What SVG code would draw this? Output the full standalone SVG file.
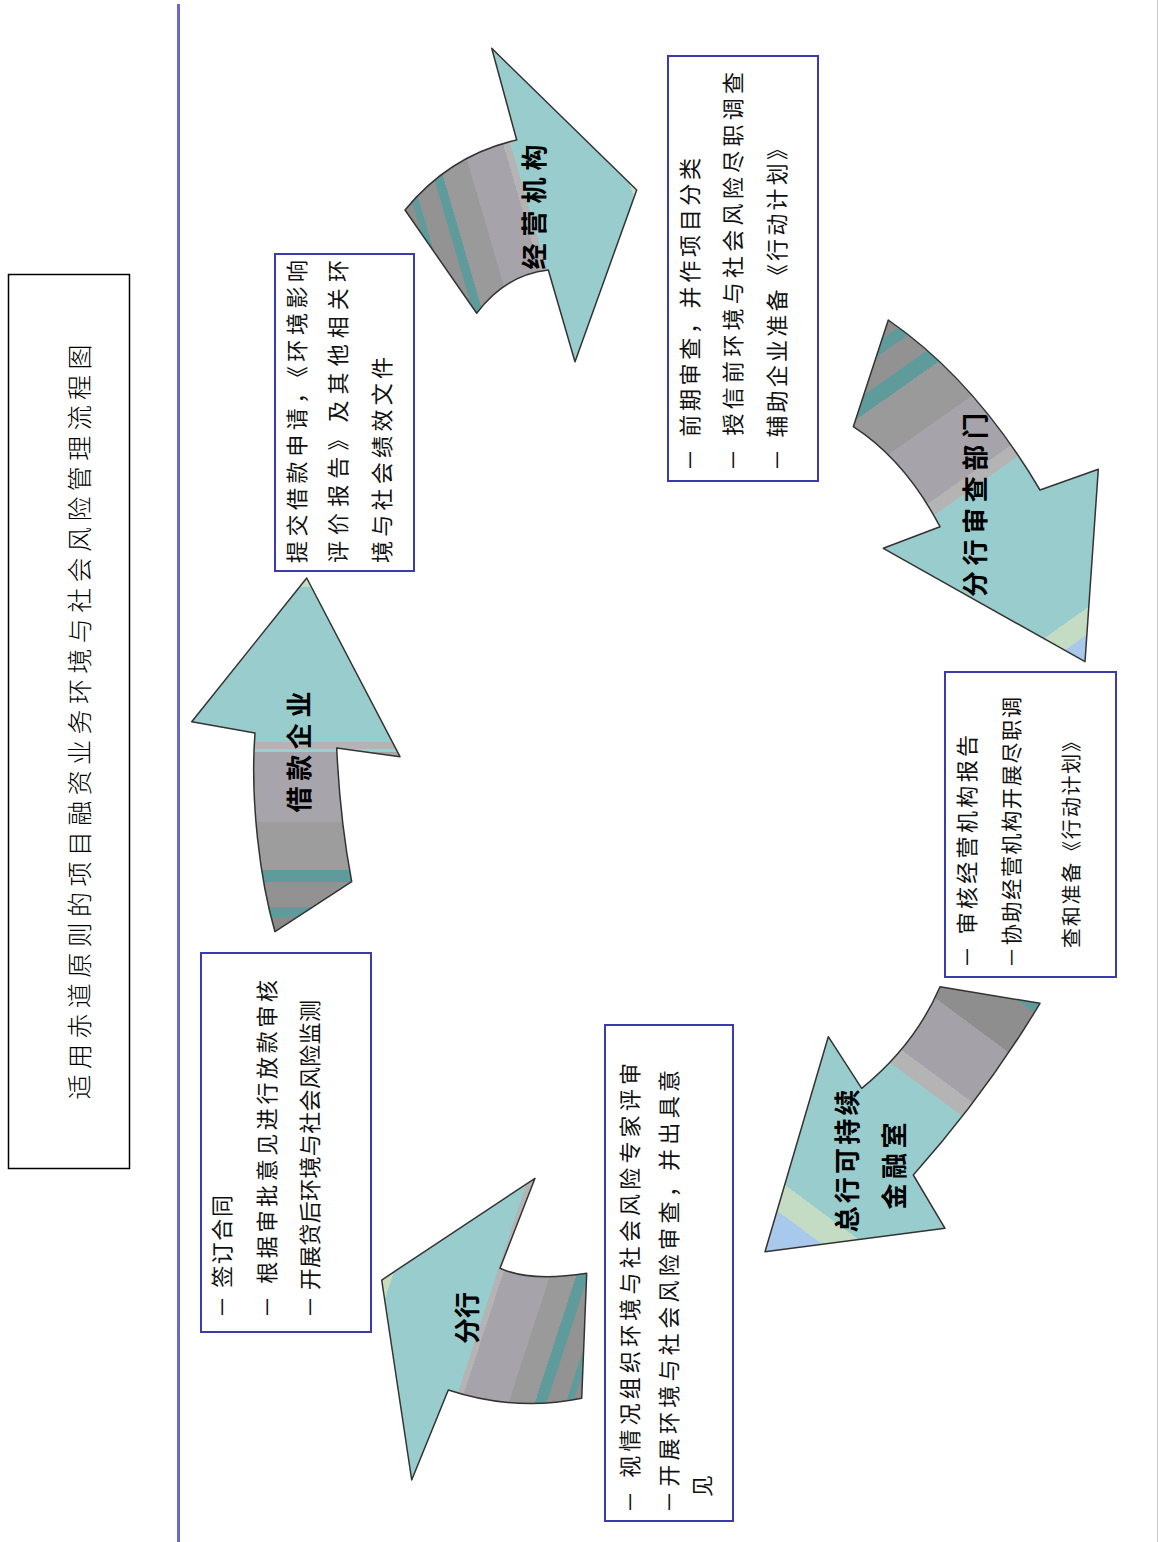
<svg xmlns="http://www.w3.org/2000/svg" width="1159" height="1542" viewBox="0 0 1159 1542">
<style>
.box{fill:#ffffff;stroke:#3b3bb0;stroke-width:2}
.arr{stroke:#333333;stroke-width:1.5;stroke-linejoin:round}
.bt{font-family:"Noto Sans CJK SC","Liberation Sans",sans-serif;font-size:22px;fill:#111;dominant-baseline:central}
.al{font-family:"Noto Sans CJK SC","Liberation Sans",sans-serif;font-size:26px;font-weight:700;fill:#000;dominant-baseline:central;text-anchor:middle}
.tt{font-family:"Noto Sans CJK SC","Liberation Serif",serif;font-size:25px;font-weight:300;fill:#000;dominant-baseline:central;text-anchor:middle}
</style>
<defs>
<linearGradient id="g1" gradientUnits="userSpaceOnUse" x1="0" y1="935" x2="0" y2="578">
<stop offset="0" stop-color="#8a8a8a"/><stop offset="0.05" stop-color="#8a8a8a"/>
<stop offset="0.05" stop-color="#5f9b9b"/><stop offset="0.078" stop-color="#5f9b9b"/>
<stop offset="0.078" stop-color="#929292"/><stop offset="0.148" stop-color="#929292"/>
<stop offset="0.148" stop-color="#5f9b9b"/><stop offset="0.182" stop-color="#5f9b9b"/>
<stop offset="0.182" stop-color="#9d9d9d"/><stop offset="0.317" stop-color="#9d9d9d"/>
<stop offset="0.317" stop-color="#a7a4ac"/><stop offset="0.513" stop-color="#a7a4ac"/>
<stop offset="0.513" stop-color="#9ccfcf"/><stop offset="0.52" stop-color="#9ccfcf"/>
<stop offset="0.52" stop-color="#b4b4b4"/><stop offset="0.541" stop-color="#b4b4b4"/>
<stop offset="0.541" stop-color="#99cccc"/><stop offset="0.975" stop-color="#99cccc"/>
<stop offset="0.975" stop-color="#c4dcc4"/><stop offset="1" stop-color="#c4dcc4"/>
</linearGradient>
<linearGradient id="g2" gradientUnits="userSpaceOnUse" x1="405" y1="210" x2="625.8" y2="145.6">
<stop offset="0" stop-color="#8e8e8e"/><stop offset="0.04" stop-color="#8e8e8e"/>
<stop offset="0.04" stop-color="#5f9b9b"/><stop offset="0.07" stop-color="#5f9b9b"/>
<stop offset="0.07" stop-color="#939393"/><stop offset="0.16" stop-color="#939393"/>
<stop offset="0.16" stop-color="#5f9b9b"/><stop offset="0.2" stop-color="#5f9b9b"/>
<stop offset="0.2" stop-color="#9a9a9a"/><stop offset="0.32" stop-color="#9a9a9a"/>
<stop offset="0.32" stop-color="#a6a3ab"/><stop offset="0.49" stop-color="#a6a3ab"/>
<stop offset="0.49" stop-color="#b4b4b4"/><stop offset="0.52" stop-color="#b4b4b4"/>
<stop offset="0.52" stop-color="#99cccc"/><stop offset="0.97" stop-color="#99cccc"/>
<stop offset="0.97" stop-color="#c8dcc0"/><stop offset="1" stop-color="#c8dcc0"/>
</linearGradient>
<linearGradient id="g3" gradientUnits="userSpaceOnUse" x1="888.3" y1="320" x2="1114.7" y2="641.5">
<stop offset="0" stop-color="#8e8e8e"/><stop offset="0.03" stop-color="#8e8e8e"/>
<stop offset="0.03" stop-color="#5f9b9b"/><stop offset="0.06" stop-color="#5f9b9b"/>
<stop offset="0.06" stop-color="#929292"/><stop offset="0.12" stop-color="#929292"/>
<stop offset="0.12" stop-color="#5f9b9b"/><stop offset="0.16" stop-color="#5f9b9b"/>
<stop offset="0.16" stop-color="#9a9a9a"/><stop offset="0.28" stop-color="#9a9a9a"/>
<stop offset="0.28" stop-color="#a6a3ab"/><stop offset="0.44" stop-color="#a6a3ab"/>
<stop offset="0.44" stop-color="#b4b4b4"/><stop offset="0.473" stop-color="#b4b4b4"/>
<stop offset="0.473" stop-color="#99cccc"/><stop offset="0.89" stop-color="#99cccc"/>
<stop offset="0.89" stop-color="#c4dcc4"/><stop offset="0.945" stop-color="#c4dcc4"/>
<stop offset="0.945" stop-color="#a8c8ec"/><stop offset="1" stop-color="#a8c8ec"/>
</linearGradient>
<linearGradient id="g4" gradientUnits="userSpaceOnUse" x1="1040" y1="1003.3" x2="824" y2="1295.2">
<stop offset="0" stop-color="#5f9b9b"/><stop offset="0.03" stop-color="#5f9b9b"/>
<stop offset="0.03" stop-color="#8e8e8e"/><stop offset="0.16" stop-color="#8e8e8e"/>
<stop offset="0.16" stop-color="#a4a1a9"/><stop offset="0.33" stop-color="#a4a1a9"/>
<stop offset="0.33" stop-color="#b4b4b4"/><stop offset="0.377" stop-color="#b4b4b4"/>
<stop offset="0.377" stop-color="#99cccc"/><stop offset="0.82" stop-color="#99cccc"/>
<stop offset="0.82" stop-color="#c4dcc4"/><stop offset="0.89" stop-color="#c4dcc4"/>
<stop offset="0.89" stop-color="#a8c8ec"/><stop offset="1" stop-color="#a8c8ec"/>
</linearGradient>
<linearGradient id="g5" gradientUnits="userSpaceOnUse" x1="581.7" y1="1398" x2="366" y2="1327.6">
<stop offset="0" stop-color="#8e8e8e"/><stop offset="0.03" stop-color="#8e8e8e"/>
<stop offset="0.03" stop-color="#5f9b9b"/><stop offset="0.06" stop-color="#5f9b9b"/>
<stop offset="0.06" stop-color="#939393"/><stop offset="0.14" stop-color="#939393"/>
<stop offset="0.14" stop-color="#5f9b9b"/><stop offset="0.19" stop-color="#5f9b9b"/>
<stop offset="0.19" stop-color="#9a9a9a"/><stop offset="0.3" stop-color="#9a9a9a"/>
<stop offset="0.3" stop-color="#a6a3ab"/><stop offset="0.5" stop-color="#a6a3ab"/>
<stop offset="0.5" stop-color="#b4b4b4"/><stop offset="0.526" stop-color="#b4b4b4"/>
<stop offset="0.526" stop-color="#99cccc"/><stop offset="0.96" stop-color="#99cccc"/>
<stop offset="0.96" stop-color="#c8dcc0"/><stop offset="1" stop-color="#c8dcc0"/>
</linearGradient>
</defs>
<rect x="0" y="0" width="1159" height="1542" fill="#ffffff"/>
<g id="frame">
<line x1="178.5" y1="4" x2="178.5" y2="1542" stroke="#6a6acc" stroke-width="3"/>
<line x1="1157.5" y1="0" x2="1157.5" y2="1542" stroke="#c8c8c8" stroke-width="1"/>
</g>
<g id="title">
<rect x="8.5" y="274.5" width="121" height="894" fill="#ffffff" stroke="#000000" stroke-width="1.5"/>
<text class="tt" transform="translate(78,722) rotate(-90)" x="0" y="0" textLength="755" lengthAdjust="spacing">适用赤道原则的项目融资业务环境与社会风险管理流程图</text>
</g>
<g id="connectors">
<g id="arrow-borrower">
<path class="arr" fill="url(#g1)" d="M306.7,578 L400,756.7 L336.7,748 Q340,820 351.7,881.7 L275,931.7 C260,880 250,800 255,733 L191.7,721.7 Z"/>
<text class="al" transform="translate(297,752) rotate(-90)" x="0" y="0" textLength="121" lengthAdjust="spacing">借款企业</text>
</g>
<g id="arrow-operating">
<path class="arr" fill="url(#g2)" d="M636.7,190 L575,361.7 L548.3,270 Q505,275 476.7,313.3 L405,210 Q450,155 516.7,140 L491.7,48.3 Z"/>
<text class="al" transform="translate(532,207) rotate(-90)" x="0" y="0" textLength="125" lengthAdjust="spacing">经营机构</text>
</g>
<g id="arrow-branch-review">
<path class="arr" fill="url(#g3)" d="M888.3,320 Q975,380 1040,490 L1098.3,469.3 L1085,661.7 L883.3,548.3 L940,526.7 Q905,460 853.3,426.7 Z"/>
<text class="al" transform="translate(973,505) rotate(-90)" x="0" y="0" textLength="184" lengthAdjust="spacing">分行审查部门</text>
</g>
<g id="arrow-head-office">
<path class="arr" fill="url(#g4)" d="M940,986.7 L1040,1003.3 Q985,1095 913.3,1175 L945,1228.3 L765,1251.7 L828.3,1036.7 L861.7,1088.3 Q915,1045 940,986.7 Z"/>
<text class="al" transform="translate(845,1161) rotate(-90)" x="0" y="0" textLength="143" lengthAdjust="spacing">总行可持续</text>
<text class="al" transform="translate(892,1166) rotate(-90)" x="0" y="0" textLength="87" lengthAdjust="spacing">金融室</text>
</g>
<g id="arrow-branch">
<path class="arr" fill="url(#g5)" d="M381.7,1280 L535,1178.3 L500,1268.3 Q530,1282 586.7,1273.3 L581.7,1398.3 Q515,1412 448.3,1390 L411.7,1480 Z"/>
<text class="al" transform="translate(465,1318) rotate(-90)" x="0" y="0" textLength="52" lengthAdjust="spacing">分行</text>
</g>
</g>
<g id="box-borrower">
<rect class="box" x="275" y="254" width="139" height="317"/>
<text class="bt" transform="translate(295,563) rotate(-90)" x="0" y="0" textLength="303" lengthAdjust="spacing">提交借款申请，《环境影响</text>
<text class="bt" transform="translate(336,563) rotate(-90)" x="0" y="0" textLength="303" lengthAdjust="spacing">评价报告》及其他相关环</text>
<text class="bt" transform="translate(380,563) rotate(-90)" x="0" y="0" textLength="206" lengthAdjust="spacing">境与社会绩效文件</text>
</g>
<g id="box-operating">
<rect class="box" x="668" y="56" width="150" height="425"/>
<text class="bt" transform="translate(688,471) rotate(-90)" x="0" y="0" textLength="313" lengthAdjust="spacing">－ 前期审查，并作项目分类</text>
<text class="bt" transform="translate(731,471) rotate(-90)" x="0" y="0" textLength="399" lengthAdjust="spacing">－ 授信前环境与社会风险尽职调查</text>
<text class="bt" transform="translate(775,471) rotate(-90)" x="0" y="0" textLength="333" lengthAdjust="spacing">－ 辅助企业准备《行动计划》</text>
</g>
<g id="box-branch-review">
<rect class="box" x="945" y="672" width="171" height="305"/>
<text class="bt" transform="translate(965,968) rotate(-90)" x="0" y="0" textLength="233" lengthAdjust="spacing">－ 审核经营机构报告</text>
<text class="bt" style="font-size:21px" transform="translate(1010,968) rotate(-90)" x="0" y="0" textLength="271" lengthAdjust="spacing">－协助经营机构开展尽职调</text>
<text class="bt" style="font-size:20px" transform="translate(1070,948) rotate(-90)" x="0" y="0" textLength="216" lengthAdjust="spacing">查和准备《行动计划》</text>
</g>
<g id="box-head-office">
<rect class="box" x="605" y="1025" width="128" height="496"/>
<text class="bt" transform="translate(628,1513) rotate(-90)" x="0" y="0" textLength="450" lengthAdjust="spacing">－ 视情况组织环境与社会风险专家评审</text>
<text class="bt" transform="translate(667,1513) rotate(-90)" x="0" y="0" textLength="443" lengthAdjust="spacing">－开展环境与社会风险审查，并出具意</text>
<text class="bt" transform="translate(700,1497) rotate(-90)" x="0" y="0">见</text>
</g>
<g id="box-branch">
<rect class="box" x="201" y="953" width="170" height="379"/>
<text class="bt" transform="translate(220,1318) rotate(-90)" x="0" y="0" textLength="123" lengthAdjust="spacing">－ 签订合同</text>
<text class="bt" transform="translate(265,1318) rotate(-90)" x="0" y="0" textLength="338" lengthAdjust="spacing">－ 根据审批意见进行放款审核</text>
<text class="bt" transform="translate(308,1318) rotate(-90)" x="0" y="0" textLength="318" lengthAdjust="spacing">－ 开展贷后环境与社会风险监测</text>
</g>
</svg>
